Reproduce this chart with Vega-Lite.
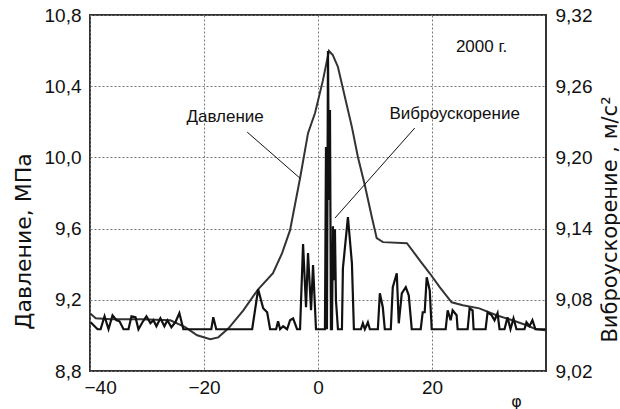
{
  "$schema": "https://vega.github.io/schema/vega-lite/v6.json",
  "width": 456,
  "height": 356,
  "autosize": {"type": "none"},
  "padding": {"left": 90, "top": 15, "right": 74, "bottom": 38},
  "background": "white",
  "config": {
    "view": {"stroke": "#333", "strokeWidth": 2},
    "font": "Liberation Sans",
    "axis": {"labelFont": "Liberation Sans", "titleFont": "DejaVu Sans", "labelColor": "#111", "titleColor": "#111", "titleFontWeight": "normal"}
  },
  "datasets": {
    "pressure": [
      {"phi": -40, "p": 9.124}, {"phi": -39.0, "p": 9.096}, {"phi": -36.4, "p": 9.091}, {"phi": -31.1, "p": 9.091},
      {"phi": -25.9, "p": 9.085}, {"phi": -23.3, "p": 9.046}, {"phi": -21.2, "p": 9.001}, {"phi": -18.9, "p": 8.978},
      {"phi": -17.5, "p": 8.989}, {"phi": -15.7, "p": 9.040}, {"phi": -13.1, "p": 9.141}, {"phi": -10.5, "p": 9.259},
      {"phi": -7.9, "p": 9.349}, {"phi": -6.3, "p": 9.462}, {"phi": -4.9, "p": 9.591}, {"phi": -3.15, "p": 9.883},
      {"phi": -1.75, "p": 10.136}, {"phi": -0.52, "p": 10.249}, {"phi": 0.87, "p": 10.434}, {"phi": 1.92, "p": 10.598},
      {"phi": 2.6, "p": 10.575}, {"phi": 3.5, "p": 10.508}, {"phi": 4.72, "p": 10.339}, {"phi": 5.95, "p": 10.170},
      {"phi": 7.0, "p": 10.002}, {"phi": 8.22, "p": 9.844}, {"phi": 9.45, "p": 9.664}, {"phi": 10.3, "p": 9.546},
      {"phi": 11.4, "p": 9.524}, {"phi": 15.6, "p": 9.518}, {"phi": 17.85, "p": 9.422}, {"phi": 19.6, "p": 9.349},
      {"phi": 21.35, "p": 9.271}, {"phi": 23.45, "p": 9.186}, {"phi": 25.4, "p": 9.169}, {"phi": 28.3, "p": 9.152},
      {"phi": 31.3, "p": 9.113}, {"phi": 34.1, "p": 9.085}, {"phi": 36.6, "p": 9.057}, {"phi": 38.3, "p": 9.034},
      {"phi": 39.9, "p": 9.029}
    ],
    "vib": [
      {"phi": -39.90, "a": 9.0611}, {"phi": -38.67, "a": 9.0552}, {"phi": -38.14, "a": 9.0552}, {"phi": -37.45, "a": 9.0661},
      {"phi": -36.75, "a": 9.0552}, {"phi": -36.05, "a": 9.0670}, {"phi": -35.35, "a": 9.0628}, {"phi": -34.82, "a": 9.0619},
      {"phi": -34.12, "a": 9.0552}, {"phi": -33.25, "a": 9.0552}, {"phi": -32.72, "a": 9.0661}, {"phi": -32.02, "a": 9.0653},
      {"phi": -31.50, "a": 9.0552}, {"phi": -30.80, "a": 9.0611}, {"phi": -30.10, "a": 9.0661}, {"phi": -29.40, "a": 9.0602},
      {"phi": -28.87, "a": 9.0628}, {"phi": -28.35, "a": 9.0577}, {"phi": -27.65, "a": 9.0644}, {"phi": -26.95, "a": 9.0577},
      {"phi": -26.42, "a": 9.0628}, {"phi": -25.72, "a": 9.0569}, {"phi": -25.02, "a": 9.0611}, {"phi": -24.32, "a": 9.0687},
      {"phi": -23.62, "a": 9.0552}, {"phi": -18.72, "a": 9.0552}, {"phi": -18.37, "a": 9.0653}, {"phi": -17.85, "a": 9.0552},
      {"phi": -11.55, "a": 9.0552}, {"phi": -10.50, "a": 9.0889}, {"phi": -9.62, "a": 9.0729}, {"phi": -8.92, "a": 9.0695},
      {"phi": -8.40, "a": 9.0552}, {"phi": -7.35, "a": 9.0552}, {"phi": -7.00, "a": 9.0619}, {"phi": -6.65, "a": 9.0552},
      {"phi": -6.12, "a": 9.0577}, {"phi": -5.42, "a": 9.0552}, {"phi": -4.90, "a": 9.0628}, {"phi": -4.37, "a": 9.0644},
      {"phi": -3.67, "a": 9.0552}, {"phi": -3.15, "a": 9.0552}, {"phi": -2.62, "a": 9.1269}, {"phi": -2.10, "a": 9.0737},
      {"phi": -1.75, "a": 9.1193}, {"phi": -1.22, "a": 9.0712}, {"phi": -0.87, "a": 9.1092}, {"phi": -0.35, "a": 9.0552},
      {"phi": 1.22, "a": 9.0552}, {"phi": 1.40, "a": 9.2087}, {"phi": 1.57, "a": 9.0552}, {"phi": 1.75, "a": 9.2896},
      {"phi": 1.92, "a": 9.1640}, {"phi": 2.10, "a": 9.2399}, {"phi": 2.27, "a": 9.0552}, {"phi": 2.45, "a": 9.0552},
      {"phi": 2.62, "a": 9.1420}, {"phi": 2.80, "a": 9.0965}, {"phi": 2.97, "a": 9.1395}, {"phi": 3.15, "a": 9.0796},
      {"phi": 3.50, "a": 9.0552}, {"phi": 4.20, "a": 9.0552}, {"phi": 4.37, "a": 9.1066}, {"phi": 5.25, "a": 9.1496},
      {"phi": 5.95, "a": 9.1108}, {"phi": 6.30, "a": 9.0552}, {"phi": 7.52, "a": 9.0552}, {"phi": 7.87, "a": 9.0602},
      {"phi": 8.22, "a": 9.0552}, {"phi": 8.75, "a": 9.0611}, {"phi": 9.10, "a": 9.0552}, {"phi": 10.50, "a": 9.0552},
      {"phi": 10.85, "a": 9.0855}, {"phi": 11.37, "a": 9.0737}, {"phi": 11.72, "a": 9.0552}, {"phi": 12.77, "a": 9.0552},
      {"phi": 13.12, "a": 9.0906}, {"phi": 13.82, "a": 9.1024}, {"phi": 14.17, "a": 9.0602}, {"phi": 14.70, "a": 9.0855},
      {"phi": 15.40, "a": 9.0906}, {"phi": 15.92, "a": 9.0838}, {"phi": 16.45, "a": 9.0552}, {"phi": 18.02, "a": 9.0552},
      {"phi": 18.37, "a": 9.0695}, {"phi": 18.72, "a": 9.0695}, {"phi": 19.07, "a": 9.0990}, {"phi": 19.60, "a": 9.0881},
      {"phi": 19.95, "a": 9.0552}, {"phi": 22.40, "a": 9.0552}, {"phi": 22.75, "a": 9.0712}, {"phi": 23.27, "a": 9.0628},
      {"phi": 23.62, "a": 9.0712}, {"phi": 24.32, "a": 9.0670}, {"phi": 24.50, "a": 9.0552}, {"phi": 26.25, "a": 9.0552},
      {"phi": 26.60, "a": 9.0729}, {"phi": 27.12, "a": 9.0712}, {"phi": 27.30, "a": 9.0552}, {"phi": 29.40, "a": 9.0552},
      {"phi": 29.75, "a": 9.0695}, {"phi": 30.45, "a": 9.0670}, {"phi": 30.97, "a": 9.0628}, {"phi": 31.50, "a": 9.0687},
      {"phi": 31.85, "a": 9.0552}, {"phi": 32.72, "a": 9.0552}, {"phi": 33.25, "a": 9.0653}, {"phi": 33.77, "a": 9.0552},
      {"phi": 34.30, "a": 9.0644}, {"phi": 34.82, "a": 9.0552}, {"phi": 36.22, "a": 9.0552}, {"phi": 36.57, "a": 9.0611},
      {"phi": 37.10, "a": 9.0577}, {"phi": 37.62, "a": 9.0628}, {"phi": 38.15, "a": 9.0552}, {"phi": 39.90, "a": 9.0552}
    ],
    "notes": [
      {"phi": -16.3, "p": 10.226, "label": "Давление"},
      {"phi": 23.97, "p": 10.243, "label": "Виброускорение"},
      {"phi": 28.7, "p": 10.62, "label": "2000 г."}
    ],
    "leaders": [
      {"phi": -12.42, "p": 10.142, "phi2": -3.15, "p2": 9.883},
      {"phi": 16.97, "p": 10.165, "phi2": 2.97, "p2": 9.659}
    ]
  },
  "layer": [
    {
      "layer": [
        {
          "data": {"name": "pressure"},
          "mark": {"type": "line", "color": "#333", "strokeWidth": 2},
          "encoding": {
            "x": {"field": "phi", "type": "quantitative",
                  "scale": {"domain": [-40, 40], "nice": false, "zero": false},
                  "axis": {"values": [-40, -20, 0, 20], "grid": true, "gridDash": [2, 2], "gridColor": "#777", "gridWidth": 1,
                           "domain": false, "ticks": false, "labelFontSize": 19, "labelPadding": 7,
                           "labelFlush": true, "labelFlushOffset": 6,
                           "title": "φ", "titleFontSize": 16, "titleX": 426, "titleY": 30, "titleBaseline": "middle"}},
            "y": {"field": "p", "type": "quantitative",
                  "scale": {"domain": [8.8, 10.8], "nice": false, "zero": false},
                  "axis": {"values": [8.8, 9.2, 9.6, 10.0, 10.4, 10.8], "grid": true, "gridDash": [2, 2], "gridColor": "#777", "gridWidth": 1,
                           "domain": false, "ticks": false, "labelFontSize": 19, "labelPadding": 9,
                           "labelExpr": "replace(format(datum.value, '.1f'), '.', ',')",
                           "title": "Давление, МПа", "titleFontSize": 22, "titleAngle": 270,
                           "titleX": -67, "titleY": 226, "titleBaseline": "middle", "titleAlign": "center"}}
          }
        },
        {
          "data": {"name": "leaders"},
          "mark": {"type": "rule", "color": "#111", "strokeWidth": 1},
          "encoding": {
            "x": {"field": "phi", "type": "quantitative"},
            "y": {"field": "p", "type": "quantitative"},
            "x2": {"field": "phi2"},
            "y2": {"field": "p2"}
          }
        },
        {
          "data": {"name": "notes"},
          "mark": {"type": "text", "fontSize": 17, "color": "#111", "font": "Liberation Sans"},
          "encoding": {
            "x": {"field": "phi", "type": "quantitative"},
            "y": {"field": "p", "type": "quantitative"},
            "text": {"field": "label"}
          }
        }
      ]
    },
    {
      "data": {"name": "vib"},
      "mark": {"type": "line", "color": "#111", "strokeWidth": 2.2},
      "encoding": {
        "x": {"field": "phi", "type": "quantitative"},
        "y": {"field": "a", "type": "quantitative",
              "scale": {"domain": [9.02, 9.32], "nice": false, "zero": false},
              "axis": {"orient": "right", "values": [9.02, 9.08, 9.14, 9.2, 9.26, 9.32], "grid": false,
                       "domain": false, "ticks": false, "labelFontSize": 19, "labelPadding": 9,
                       "labelExpr": "replace(format(datum.value, '.2f'), '.', ',')",
                       "title": "Виброускорение , м/с²", "titleFontSize": 21, "titleAngle": 270,
                       "titleX": 64, "titleY": 204, "titleBaseline": "middle", "titleAlign": "center"}}
      }
    }
  ],
  "resolve": {"scale": {"y": "independent"}}
}
